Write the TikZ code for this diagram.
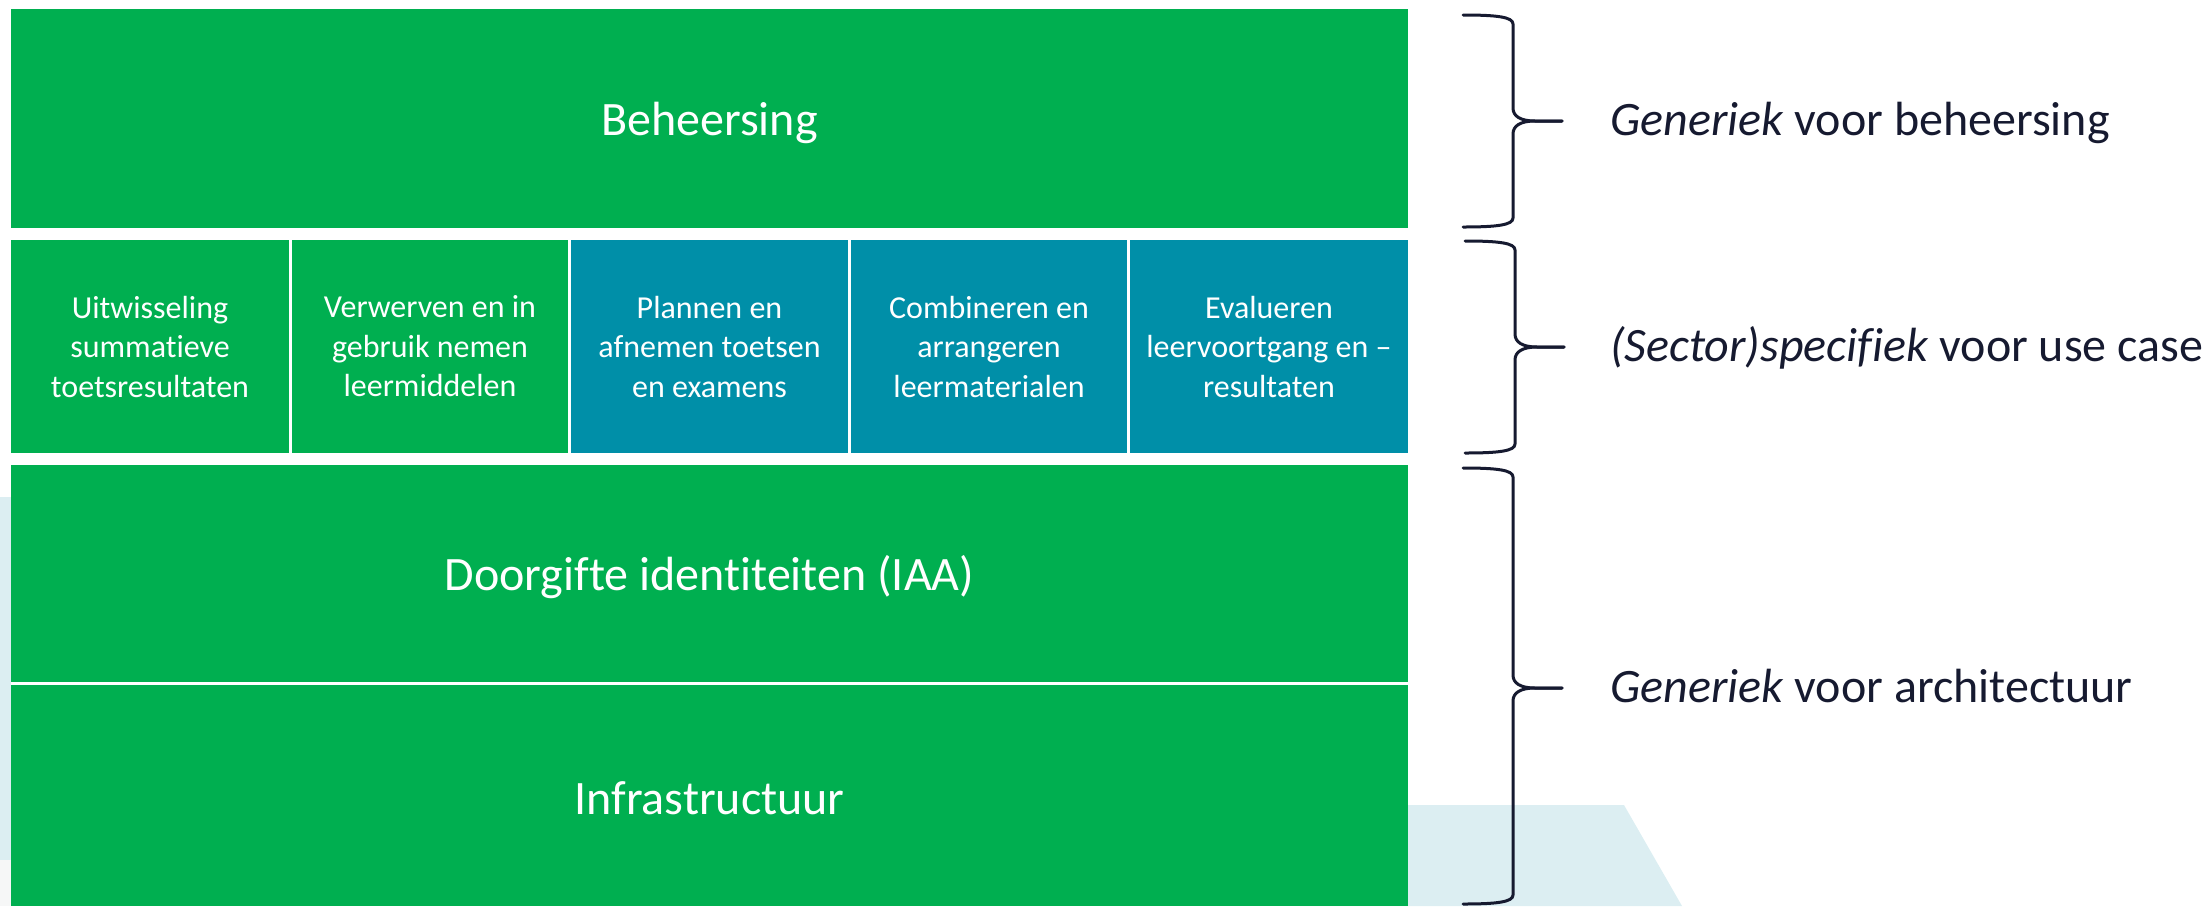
\documentclass[tikz,border=0pt]{standalone}
\usepackage{fontspec}
\setmainfont{Carlito}[Ligatures={CommonOff,ContextualOff}]
\definecolor{ogreen}{HTML}{00AF50}
\definecolor{oteal}{HTML}{008FA8}
\definecolor{lightbl}{HTML}{DCEEF2}
\definecolor{lightgr}{HTML}{F6F7F7}
\definecolor{darktxt}{HTML}{161A30}
\tikzset{
  greenbox/.style={fill=ogreen, draw=none, inner sep=0pt, outer sep=0pt},
  bigtext/.style={anchor=base, inner sep=0pt, text=white, font=\fontsize{48}{56}\selectfont},
  colbox/.style={draw=none, inner sep=0pt, outer sep=0pt, text=white, align=center, minimum height=213pt, font=\fontsize{32}{39.5}\selectfont},
  sidelabel/.style={anchor=base west, inner sep=0pt, text=darktxt, font=\fontsize{48}{56}\selectfont},
  bracestyle/.style={draw=darktxt, line width=3pt, line cap=round, line join=round}
}
\newcommand{\mybrace}[4]{% #1 xoffset, #2 top, #3 tip, #4 bottom
  \draw[bracestyle] (1463+#1,#2) .. controls (1497+#1,#2) and (1513+#1,#2+2) .. (1513+#1,#2+9)
    -- (1513+#1,#3-13) .. controls (1513+#1,#3-5) and (1520+#1,#3) .. (1535+#1,#3) -- (1562+#1,#3);
  \draw[bracestyle] (1562+#1,#3) -- (1535+#1,#3) .. controls (1520+#1,#3) and (1513+#1,#3+5) .. (1513+#1,#3+13)
    -- (1513+#1,#4-9) .. controls (1513+#1,#4-2) and (1497+#1,#4) .. (1463+#1,#4);
}
\begin{document}
\begin{tikzpicture}[x=1pt,y=-1pt]
\useasboundingbox (0,0) rectangle (2206,906);
% background shapes
\fill[lightbl] (0,497) rectangle (11,860);
\fill[lightgr] (0,860) rectangle (11,906);
\fill[lightbl] (1300,805) -- (1624,805) -- (1682,906) -- (1300,906) -- cycle;
% rows
\node[greenbox, minimum width=1397pt, minimum height=219pt] (beh) at (709.5,118.5) {};
\node[bigtext] (behT) at (709.5,135) {Beheersing};
\node[colbox, fill=ogreen, minimum width=278pt] (c1) at (150,346.5) {Uitwisseling\\summatieve\\toetsresultaten};
\node[colbox, fill=ogreen, minimum width=276pt] (c2) at (430,346.5) {Verwerven en in\\gebruik nemen\\leermiddelen};
\node[colbox, fill=oteal, minimum width=277pt] (c3) at (709.5,346.5) {Plannen en\\afnemen toetsen\\en examens};
\node[colbox, fill=oteal, minimum width=276pt] (c4) at (989,346.5) {Combineren en\\arrangeren\\leermaterialen};
\node[colbox, fill=oteal, minimum width=278pt] (c5) at (1269,346.5) {Evalueren\\leervoortgang en –\\resultaten};
\node[greenbox, minimum width=1397pt, minimum height=217pt] (iaa) at (709.5,573.5) {};
\node[bigtext] (iaaT) at (709.5,590) {Doorgifte identiteiten (IAA)};
\node[greenbox, minimum width=1397pt, minimum height=221pt] (infra) at (709.5,795.5) {};
\node[bigtext] (infraT) at (709.5,814) {Infrastructuur};
% braces
\mybrace{0}{15}{121}{227}
\mybrace{2}{241}{347}{453}
\mybrace{0}{468}{688}{904}
% labels
\node[sidelabel] (l1) at (1610,135) {\textit{Generiek} voor beheersing};
\node[sidelabel] (l2) at (1610,361) {\textit{(Sector)specifiek} voor use case};
\node[sidelabel] (l3) at (1610,702) {\textit{Generiek} voor architectuur};
\end{tikzpicture}
\end{document}
